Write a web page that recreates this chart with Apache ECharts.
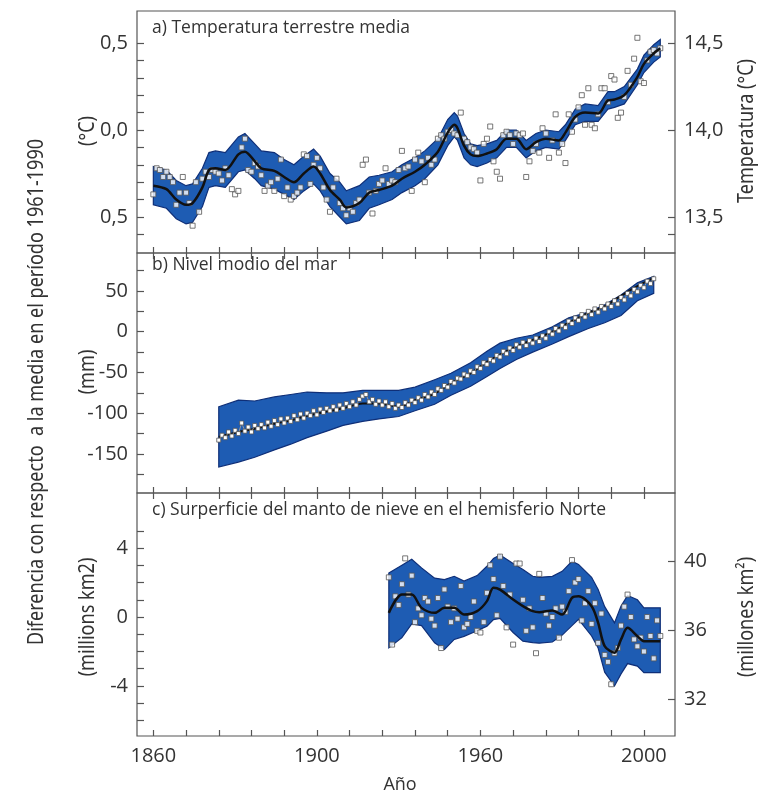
<!DOCTYPE html>
<html>
<head>
<meta charset="utf-8">
<script src="https://cdn.jsdelivr.net/npm/echarts@6/dist/echarts.min.js"></script>
<style>
  html, body { margin: 0; padding: 0; background: #fff; }
  #chart { width: 763px; height: 798px; }
</style>
</head>
<body>
<div id="chart"></div>
<script>
// ---- eje X (años) ----
var xTickYears = [1850, 1860, 1870, 1880, 1890, 1900, 1910, 1920, 1930, 1940, 1950, 1960, 1970, 1980, 1990, 2000];
var xLabelYears = [1850, 1900, 1950, 2000];
var xLabelTexts = ['1860', '1900', '1960', '2000'];

// ---- a) Temperatura terrestre media ----
var tempYears = [1850, 1854, 1857, 1860, 1862, 1865, 1867, 1869, 1872, 1876, 1878, 1881, 1883, 1887, 1890, 1893, 1896, 1899, 1901, 1904,
  1907, 1909, 1913, 1916, 1919, 1923, 1926, 1930, 1933, 1937, 1940, 1942, 1943, 1945, 1947, 1949, 1952, 1955, 1958, 1961,
  1964, 1967, 1970, 1974, 1976, 1979, 1982, 1986, 1989, 1991, 1994, 1998, 2000, 2003, 2005];
var tempSmooth = [-0.32, -0.34, -0.40, -0.43, -0.42, -0.33, -0.23, -0.22, -0.23, -0.14, -0.125, -0.18, -0.22, -0.235, -0.27, -0.30, -0.25, -0.21, -0.25, -0.345,
  -0.40, -0.445, -0.42, -0.36, -0.345, -0.32, -0.28, -0.24, -0.20, -0.125, -0.015, 0.03, 0.01, -0.09, -0.14, -0.15, -0.135, -0.11, -0.05, -0.05,
  -0.11, -0.07, -0.05, -0.06, -0.015, 0.075, 0.10, 0.095, 0.17, 0.175, 0.20, 0.305, 0.38, 0.44, 0.47];
var tempUpper = [-0.21, -0.23, -0.29, -0.32, -0.31, -0.22, -0.13, -0.12, -0.13, -0.04, -0.02, -0.08, -0.12, -0.13, -0.17, -0.20, -0.15, -0.11, -0.15, -0.25,
  -0.30, -0.35, -0.32, -0.27, -0.26, -0.24, -0.20, -0.16, -0.12, -0.05, 0.06, 0.10, 0.08, -0.02, -0.08, -0.09, -0.08, -0.06, 0.00, 0.00,
  -0.06, -0.02, 0.00, -0.01, 0.03, 0.12, 0.15, 0.14, 0.22, 0.22, 0.25, 0.35, 0.43, 0.49, 0.52];
var tempLower = [-0.43, -0.45, -0.51, -0.54, -0.53, -0.44, -0.33, -0.32, -0.33, -0.24, -0.23, -0.28, -0.32, -0.34, -0.37, -0.40, -0.35, -0.31, -0.35, -0.44,
  -0.50, -0.54, -0.52, -0.45, -0.43, -0.40, -0.36, -0.32, -0.28, -0.20, -0.09, -0.04, -0.06, -0.16, -0.20, -0.21, -0.19, -0.16, -0.10, -0.10,
  -0.16, -0.12, -0.10, -0.11, -0.06, 0.03, 0.05, 0.05, 0.12, 0.13, 0.15, 0.26, 0.33, 0.39, 0.42];
var tempFirstYear = 1850;
var tempAnnual = [
  -0.37, -0.22, -0.23, -0.27, -0.24, -0.27, -0.30, -0.43, -0.36, -0.27,
  -0.36, -0.42, -0.55, -0.30, -0.47, -0.28, -0.24, -0.27, -0.23, -0.24,
  -0.25, -0.29, -0.22, -0.26, -0.34, -0.37, -0.35, -0.10, -0.05, -0.23,
  -0.24, -0.19, -0.21, -0.26, -0.35, -0.32, -0.30, -0.35, -0.28, -0.17,
  -0.38, -0.33, -0.40, -0.38, -0.36, -0.33, -0.14, -0.15, -0.31, -0.20,
  -0.16, -0.22, -0.33, -0.40, -0.47, -0.33, -0.28, -0.42, -0.45, -0.49,
  -0.45, -0.47, -0.42, -0.40, -0.20, -0.17, -0.36, -0.48, -0.35, -0.31,
  -0.29, -0.22, -0.31, -0.29, -0.30, -0.23, -0.12, -0.22, -0.21, -0.35,
  -0.17, -0.13, -0.18, -0.30, -0.16, -0.20, -0.17, -0.05, -0.03, -0.05,
  -0.01, 0.00, -0.02, -0.03, 0.10, -0.05, -0.07, -0.10, -0.11, -0.13,
  -0.29, -0.08, -0.05, 0.02, -0.18, -0.24, -0.28, -0.03, -0.01, -0.03,
  -0.08, -0.02, -0.03, -0.02, -0.27, -0.18, -0.12, -0.08, -0.13, 0.01,
  -0.02, -0.16, -0.06, 0.09, -0.13, -0.08, -0.19, 0.09, -0.01, 0.06,
  0.13, 0.20, 0.03, 0.24, 0.03, 0.01, 0.09, 0.24, 0.24, 0.16,
  0.31, 0.29, 0.07, 0.10, 0.19, 0.34, 0.26, 0.41, 0.53, 0.28,
  0.27, 0.40, 0.45, 0.46, 0.44, 0.47];
var tempTicks = [-0.6, -0.5, -0.4, -0.3, -0.2, -0.1, 0, 0.1, 0.2, 0.3, 0.4, 0.5];
var tempLabels = [-0.5, 0, 0.5];
var tempAbsTicks = [13.4, 13.5, 14.0, 14.5];
var tempAbsLabels = [13.5, 14.0, 14.5];
var tempAbsOffset = 14;

// ---- b) Nivel modio del mar ----
var seaYears = [1870, 1876, 1881, 1887, 1892, 1897, 1903, 1908, 1914, 1919, 1925, 1930, 1936, 1941, 1947, 1952, 1956, 1961, 1966, 1972,
  1977, 1983, 1988, 1993, 1998, 2003];
var seaSmooth = [-129, -123, -119, -113, -109, -103, -98, -94, -88, -88, -92, -84, -76, -63, -51, -37, -28, -18, -10, 0,
  11, 23, 31, 44, 56, 66];
var seaUpper = [-92, -84, -85, -80, -77, -74, -75, -75, -72, -72, -72, -68, -59, -51, -38, -24, -14, -8, -4, 6,
  17, 24, 33, 45, 60, 68];
var seaLower = [-166, -160, -154, -145, -138, -130, -122, -115, -110, -107, -104, -97, -89, -78, -67, -55, -45, -34, -25, -15,
  -6, 4, 11, 20, 38, 47];
var seaFirstYear = 1870;
var seaAnnual = [
  -133, -127, -130, -123, -128, -121, -125, -112, -122, -117,
  -123, -115, -119, -114, -118, -111, -116, -109, -114, -107,
  -112, -106, -110, -103, -108, -101, -106, -100, -103, -97,
  -102, -95, -99, -94, -97, -92, -96, -90, -94, -88,
  -92, -86, -90, -83, -79, -77, -86, -83, -89, -85,
  -90, -86, -92, -88, -94, -90, -93, -87, -90, -84,
  -87, -81, -84, -77, -80, -74, -77, -70, -72, -66,
  -68, -61, -63, -57, -58, -52, -54, -48, -50, -43,
  -45, -38, -40, -34, -36, -29, -31, -24, -27, -20,
  -23, -16, -19, -13, -17, -11, -14, -8, -12, -5,
  -8, 0, -3, 4, 1, 8, 5, 13, 10, 17,
  14, 21, 18, 25, 21, 28, 24, 31, 28, 34,
  31, 38, 34, 42, 39, 47, 44, 52, 49, 57,
  54, 62, 59, 65];
var seaTicks = [-175, -150, -125, -100, -75, -50, -25, 0, 25, 50, 75];
var seaLabels = [-150, -100, -50, 0, 50];

// ---- c) Superficie del manto de nieve ----
var snowYears = [1922, 1926, 1929, 1932, 1936, 1939, 1942, 1945, 1949, 1952, 1954, 1956, 1960, 1963, 1966, 1968, 1972, 1975, 1978, 1980,
  1984, 1986, 1988, 1991, 1993, 1995, 1998, 2000, 2005];
var snowSmooth = [0.24, 1.30, 1.30, 0.53, 0.24, 0.53, 0.53, 0.14, 0.34, 0.92, 1.69, 1.59, 1.01, 0.63, 0.34, 0.28, 0.38, 0.14, 1.11, 1.20,
  0.63, -0.34, -1.69, -2.07, -1.30, -0.63, -1.11, -1.40, -1.40];
var snowUpper = [2.55, 3.0, 3.35, 2.85, 2.25, 2.17, 2.36, 2.08, 2.4, 2.94, 3.4, 3.6, 3.1, 2.75, 2.36, 2.3, 2.36, 2.65, 3.23, 3.05,
  2.3, 1.6, 0.6, -0.34, 0.63, 1.25, 1.0, 0.53, 0.53];
var snowLower = [-1.78, -1.2, -0.4, -0.5, -1.5, -1.88, -1.3, -1.12, -0.8, -0.53, -0.15, -0.08, -0.9, -1.4, -1.49, -1.52, -1.45, -1.05, -0.5, -0.14,
  -1.1, -1.8, -3.2, -4.0, -3.3, -2.7, -2.85, -3.23, -3.23];
var snowFirstYear = 1922;
var snowAnnual = [
  2.3, -1.6, 1.2, 0.7, 1.9, 3.4, 1.3, 2.4,
  -0.3, 0.5, 0.1, 1.1, 0.9, -0.1, -0.5, 1.1, -1.8, 1.6,
  0.6, -0.3, 0.5, -0.1, 1.8, -0.6, -0.4, 0.0, 0.9, -0.8,
  -0.9, -0.3, 1.4, 3.0, 2.2, 0.1, 3.5, 1.8, -0.6, 1.3,
  -1.6, 3.1, 3.1, 1.0, -0.8, 0.5, -0.6, -2.1, 2.5, 1.1,
  0.2, -0.5, 0.0, 0.5, -1.2, 0.6, 0.3, 1.5, 3.3, 2.0,
  2.2, -0.2, 0.8, 1.5, -0.4, 0.8, -1.5, 0.2, -2.2, -2.6,
  -3.9, -2.1, -1.8, -0.5, 0.6, 1.3, 0.0, -1.3, -1.7, -1.2,
  -2.0, 0.0, -1.1, -2.4, -0.2, -1.1];
var snowTicks = [-6, -5, -4, -3, -2, -1, 0, 1, 2, 3, 4, 5];
var snowLabels = [-4, 0, 4];
var snowAbsTicks = [32, 36, 40];
var snowAbsOffset = 36.77;

// ---- estilos ----
var BAND = '#1e5cb3';
var BAND_EDGE = '#0f2f78';
var FRAME = '#555';
var TXT = '#333';
var NUM_FONT = "'Open Sans', 'Noto Sans', sans-serif";
var NARROW_FONT = "'Noto Sans', sans-serif";

var myChart = echarts.init(document.getElementById('chart'));

function pairs(xs, ys) { return xs.map(function (x, i) { return [x, ys[i]]; }); }
function annual(first, vals) { return vals.map(function (v, i) { return [first + i, v]; }); }
function comma(v, dec) { return v.toFixed(dec).replace('.', ','); }

// banda de incertidumbre: poligono (superior + inferior) trazado con las escalas del eje
function bandSeries(years, lower, upper, xi, yi) {
  return {
    type: 'custom', coordinateSystem: 'cartesian2d', xAxisIndex: xi, yAxisIndex: yi,
    silent: true, clip: true,
    data: [[years[0], lower[0]]],
    renderItem: function (params, api) {
      var pts = [];
      for (var i = 0; i < years.length; i++) pts.push(api.coord([years[i], upper[i]]));
      for (var j = years.length - 1; j >= 0; j--) pts.push(api.coord([years[j], lower[j]]));
      return {
        type: 'polygon',
        shape: { points: pts },
        style: { fill: BAND, stroke: BAND_EDGE, lineWidth: 1.2 }
      };
    }
  };
}

function xAxisFor(grid, pos, labels) {
  return {
    type: 'value', gridIndex: grid, position: pos, min: 1845, max: 2009.5,
    axisLine: { show: false, onZero: false }, splitLine: { show: false },
    axisTick: { show: true, inside: true, length: 6, customValues: xTickYears, lineStyle: { color: FRAME, width: 1.2 } },
    axisLabel: labels ? {
      show: true, customValues: xLabelYears, margin: 10, color: TXT, fontSize: 20, fontFamily: NUM_FONT,
      formatter: function (v) { return xLabelTexts[xLabelYears.indexOf(v)]; }
    } : { show: false }
  };
}

function yAxisFor(grid, pos, min, max, ticks, labels, fmt) {
  return {
    type: 'value', gridIndex: grid, position: pos, min: min, max: max,
    axisLine: { show: false, onZero: false }, splitLine: { show: false },
    axisTick: { show: true, inside: true, length: 7, customValues: ticks, lineStyle: { color: FRAME, width: 1.2 } },
    axisLabel: { show: true, customValues: labels, margin: 9, color: TXT, fontSize: 20, fontFamily: NUM_FONT, formatter: fmt }
  };
}

var tMin = -0.707, tMax = 0.684;
var sMin = -197.9, sMax = 96.6;
var nMin = -6.9, nMax = 7.19;

// textos verticales, algo estrechados como en el original
function vtext(x, y, text) {
  return {
    type: 'text', x: x, y: y, rotation: Math.PI / 2, scaleX: 0.86, silent: true,
    style: { text: text, fill: TXT, fontSize: 21, fontFamily: NARROW_FONT, textAlign: 'center', textVerticalAlign: 'middle' }
  };
}
function title(y, text) {
  return {
    type: 'text', left: 152, top: y, silent: true,
    style: { text: text, fill: TXT, fontSize: 17.5, fontFamily: NUM_FONT }
  };
}

var series = [
  bandSeries(tempYears, tempLower, tempUpper, 0, 0),
  {
    type: 'line', xAxisIndex: 0, yAxisIndex: 0, symbol: 'none', smooth: 0.3,
    lineStyle: { color: '#111', width: 2.5 }, data: pairs(tempYears, tempSmooth)
  }, {
    type: 'scatter', xAxisIndex: 0, yAxisIndex: 0, symbol: 'rect', symbolSize: 5,
    itemStyle: { color: '#fff', borderColor: '#555', borderWidth: 1 }, data: annual(tempFirstYear, tempAnnual)
  },
  bandSeries(seaYears, seaLower, seaUpper, 1, 2),
  {
    type: 'line', xAxisIndex: 1, yAxisIndex: 2, symbol: 'none', smooth: 0.3,
    lineStyle: { color: '#111', width: 2 }, data: pairs(seaYears, seaSmooth)
  }, {
    type: 'line', xAxisIndex: 1, yAxisIndex: 2, symbol: 'rect', symbolSize: 4, showAllSymbol: true,
    lineStyle: { color: '#999', width: 1 },
    itemStyle: { color: '#fff', borderColor: '#555', borderWidth: 0.8 }, data: annual(seaFirstYear, seaAnnual)
  },
  bandSeries(snowYears, snowLower, snowUpper, 3, 3),
  {
    type: 'line', xAxisIndex: 3, yAxisIndex: 3, symbol: 'none', smooth: 0.3,
    lineStyle: { color: '#111', width: 2.5 }, data: pairs(snowYears, snowSmooth)
  }, {
    type: 'scatter', xAxisIndex: 3, yAxisIndex: 3, symbol: 'rect', symbolSize: 5,
    itemStyle: { color: '#fff', borderColor: '#555', borderWidth: 1 }, data: annual(snowFirstYear, snowAnnual)
  }
];

var option = {
  animation: false,
  backgroundColor: '#fff',
  grid: [
    { left: 137, right: 88, top: 11, height: 242, show: true, borderColor: FRAME, borderWidth: 1.2 },
    { left: 137, right: 88, top: 253, height: 240, show: true, borderColor: FRAME, borderWidth: 1.2 },
    { left: 137, right: 88, top: 493, height: 243, show: true, borderColor: FRAME, borderWidth: 1.2 }
  ],
  xAxis: [
    xAxisFor(0, 'bottom', false),
    xAxisFor(1, 'bottom', false),
    xAxisFor(1, 'top', false),
    xAxisFor(2, 'bottom', true),
    xAxisFor(2, 'top', false)
  ],
  yAxis: [
    yAxisFor(0, 'left', tMin, tMax, tempTicks, tempLabels, function (v) { return comma(Math.abs(v), 1); }),
    yAxisFor(0, 'right', tMin + tempAbsOffset, tMax + tempAbsOffset, tempAbsTicks, tempAbsLabels, function (v) { return comma(v, 1); }),
    yAxisFor(1, 'left', sMin, sMax, seaTicks, seaLabels, function (v) { return String(v); }),
    yAxisFor(2, 'left', nMin, nMax, snowTicks, snowLabels, function (v) { return String(v); }),
    yAxisFor(2, 'right', nMin + snowAbsOffset, nMax + snowAbsOffset, snowAbsTicks, snowAbsTicks, function (v) { return String(v); })
  ],
  graphic: [
    title(19, 'a) Temperatura terrestre media'),
    title(256, 'b) Nivel modio del mar'),
    title(501, 'c) Surperficie del manto de nieve en el hemisferio Norte'),
    vtext(37, 392, 'Diferencia con respecto  a la media en el período 1961-1990'),
    vtext(88, 131, '(°C)'),
    vtext(88, 372, '(mm)'),
    vtext(88, 617, '(millions km2)'),
    vtext(747, 131, 'Temperatura (°C)'),
    vtext(747, 617, '(millones km²)'),
    {
      type: 'text', x: 400, y: 785, silent: true,
      style: { text: 'Año', fill: TXT, fontSize: 18, fontFamily: NUM_FONT, textAlign: 'center', textVerticalAlign: 'middle' }
    }
  ],
  series: series
};
myChart.setOption(option);
</script>
</body>
</html>
